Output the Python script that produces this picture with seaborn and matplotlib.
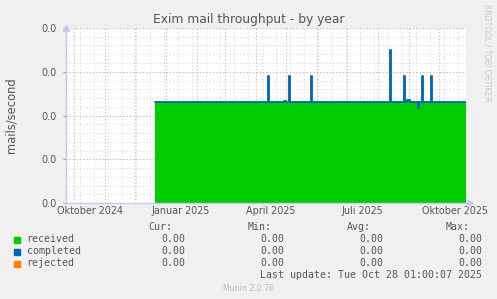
import matplotlib
matplotlib.use("Agg")
import numpy as np
import pandas as pd
import seaborn as sns
import matplotlib.pyplot as plt
import matplotlib.dates as mdates
from matplotlib.ticker import FixedLocator, MultipleLocator, FuncFormatter

# ---------------- data ----------------
change_dates = ["2024-12-21", "2025-04-13", "2025-04-14", "2025-04-29", "2025-05-01",
                "2025-05-04", "2025-05-05", "2025-05-26", "2025-05-27", "2025-08-13",
                "2025-08-14", "2025-08-27", "2025-08-28", "2025-08-30", "2025-09-02",
                "2025-09-10", "2025-09-11", "2025-09-14", "2025-09-15", "2025-09-23",
                "2025-09-24", "2025-10-28"]
received = [0.0230, 0.0290, 0.0230, 0.0233, 0.0230,
            0.0290, 0.0230, 0.0290, 0.0230, 0.0350,
            0.0230, 0.0290, 0.0230, 0.0235, 0.0230,
            0.0217, 0.0230, 0.0290, 0.0230, 0.0290,
            0.0230, 0.0230]
completed = list(received)

series_names = ["received", "completed", "rejected"]
series_colors = ["#00CC00", "#0066B3", "#FF8000"]
cur_vals = ["0.00", "0.00", "0.00"]
min_vals = ["0.00", "0.00", "0.00"]
avg_vals = ["0.00", "0.00", "0.00"]
max_vals = ["0.00", "0.00", "0.00"]

x_label_dates = ["2024-10-17", "2025-01-16", "2025-04-16", "2025-07-16", "2025-10-17"]
x_labels = ["Oktober 2024", "Januar 2025", "April 2025", "Juli 2025", "Oktober 2025"]
y_ticks = [0.0, 0.01, 0.02, 0.03, 0.04]

x_start, x_end = "2024-09-23 01:00", "2025-10-28 01:00"

title = "Exim mail throughput - by year"
ylabel = "mails/second"
last_update = "Last update: Tue Oct 28 01:00:07 2025"
footer = "Munin 2.0.76"
side_text = "RRDTOOL / TOBI OETIKER"

# ---------------- figure ----------------
sns.set_theme(style="white")
plt.rcParams["font.family"] = ["DejaVu Sans"]

W, H = 497, 299
fig = plt.figure(figsize=(W / 100, H / 100), dpi=100, facecolor="#F0F0F0")
L, R, T, B = 66, 466, 28, 203
ax = fig.add_axes([L / W, 1 - B / H, (R - L) / W, (B - T) / H])
ax.set_facecolor("white")

df = pd.DataFrame({"date": pd.to_datetime(change_dates),
                   "received": received, "completed": completed})

# grid (under data)
grid_red = "#E8A8A8"
grid_grey = "#D8D8D8"
for d in pd.date_range("2024-10-07", x_end, freq="14D"):
    ax.axvline(d, color=grid_grey, lw=0.8, ls=(0, (1, 2)), zorder=0)
for d in pd.date_range("2024-10-01", x_end, freq="MS"):
    ax.axvline(d, color=grid_red, lw=0.8, ls=(0, (1, 2)), zorder=0.5)
for v in np.arange(0, 0.0401, 0.002):
    ax.axhline(v, color=grid_grey, lw=0.8, ls=(0, (1, 2)), zorder=0)
for v in y_ticks:
    ax.axhline(v, color=grid_red, lw=0.8, ls=(0, (1, 2)), zorder=0.5)

ax.fill_between(df["date"], df["received"], step="post", color=series_colors[0],
                lw=0, zorder=2)
sns.lineplot(data=df, x="date", y="completed", ax=ax, color=series_colors[1],
             lw=1.3, drawstyle="steps-post", zorder=3, legend=False)

ax.set_xlim(pd.Timestamp(x_start), pd.Timestamp(x_end))
ax.set_ylim(0, 0.04)

ax.xaxis.set_major_locator(FixedLocator(mdates.date2num(pd.to_datetime(x_label_dates))))
ax.set_xticklabels(x_labels)
ax.yaxis.set_major_locator(FixedLocator(y_ticks))
ax.yaxis.set_major_formatter(FuncFormatter(lambda v, p: f"{v:.1f}"))
ax.tick_params(axis="x", length=0, pad=2, labelsize=6.9, labelcolor="#555555")
ax.tick_params(axis="y", length=2, width=0.8, color="#E08080", pad=5,
               labelsize=6.9, labelcolor="#555555", left=True)
ax.set_xlabel("")
ax.set_ylabel("")

for s in ["top", "right"]:
    ax.spines[s].set_visible(False)
for s in ["left", "bottom"]:
    ax.spines[s].set_color("#C8C8F0")
    ax.spines[s].set_linewidth(1.0)
    ax.spines[s].set_zorder(4)

# axis arrows
ax.plot([0], [1.0], marker="^", ms=5, color="#C8C8F0", transform=ax.transAxes,
        clip_on=False, zorder=5)
ax.plot([1.01], [0], marker=">", ms=5, color="#C8C8F0", transform=ax.transAxes,
        clip_on=False, zorder=5)

def px(x, y):
    return x / W, 1 - y / H

# title etc
fig.text(*px(249, 19), title, ha="center", va="center", fontsize=8.8, color="#555555")
fig.text(*px(11, 115), ylabel, ha="center", va="center", rotation=90, fontsize=8.3,
         color="#555555")
fig.text(*px(487, 53), side_text, ha="center", va="center", rotation=270,
         fontsize=5.5, color="#CCCCCC")

# legend block
mono = "DejaVu Sans Mono"
fs = 7.1
lc = "#555555"

for hdr, xr in zip(["Cur:", "Min:", "Avg:", "Max:"], [172.5, 271.5, 371, 470]):
    fig.text(*px(xr, 227.5), hdr, ha="right", va="center", family=mono, fontsize=fs, color=lc)

row_y = [239.5, 251.5, 263.5]
for i, name in enumerate(series_names):
    y = row_y[i]
    fig.patches.append(plt.Rectangle(px(14, y + 3), 6 / W, 6 / H, transform=fig.transFigure,
                                     color=series_colors[i], figure=fig))
    fig.text(*px(26.5, y), name, ha="left", va="center", family=mono, fontsize=fs, color=lc)
    for vals, xr in zip([cur_vals, min_vals, avg_vals, max_vals], [185, 284.5, 383.5, 482.5]):
        fig.text(*px(xr, y), vals[i], ha="right", va="center", family=mono, fontsize=fs, color=lc)

fig.text(*px(482.5, 275.5), last_update, ha="right", va="center", family=mono, fontsize=fs, color=lc)
fig.text(*px(248, 288.5), footer, ha="center", va="center", fontsize=5.6, color="#BBBBBB")

fig.savefig("out.png", dpi=100, facecolor=fig.get_facecolor())
